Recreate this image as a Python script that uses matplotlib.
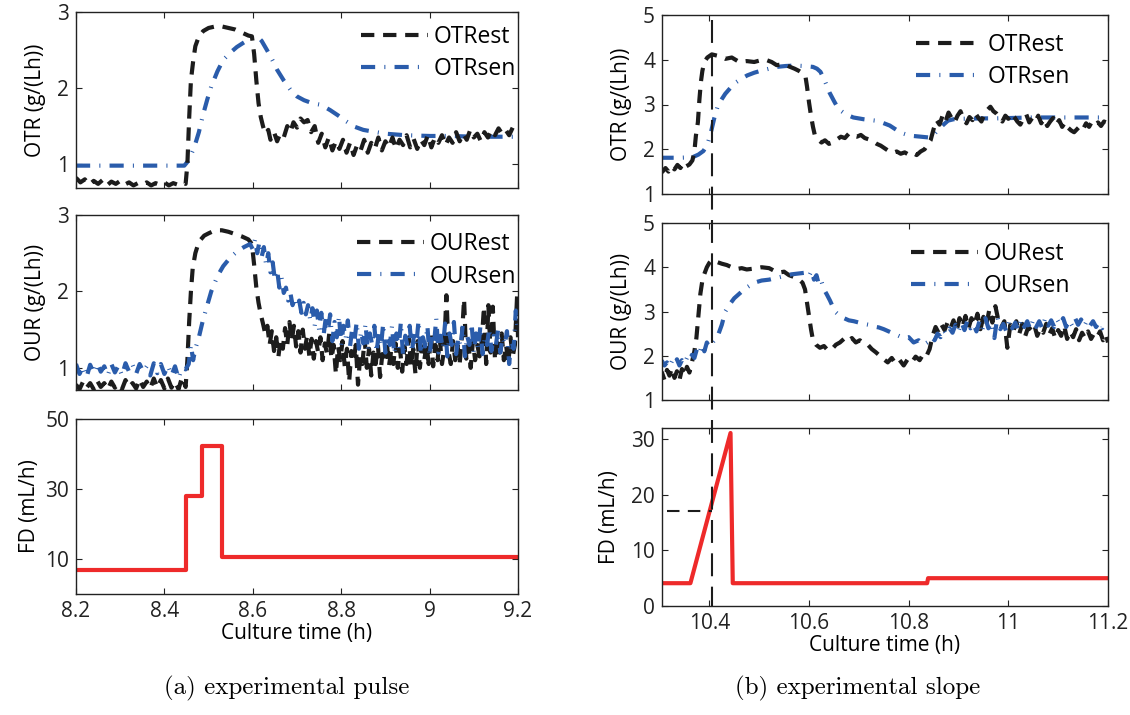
import matplotlib
matplotlib.use('Agg')
import matplotlib.pyplot as plt
from matplotlib.lines import Line2D
import matplotlib.transforms as mtransforms

plt.rcParams['font.family'] = ['Open Sans', 'DejaVu Sans']

# ---------------- (a) experimental pulse ----------------
a_otr_est_t = [8.20, 8.21, 8.22, 8.23, 8.24, 8.25, 8.26, 8.27, 8.28, 8.29, 8.30, 8.31, 8.32, 8.33, 8.34,
               8.35, 8.36, 8.37, 8.38, 8.39, 8.40, 8.41, 8.42, 8.43, 8.44, 8.448, 8.452, 8.456, 8.460,
               8.465, 8.470, 8.478, 8.488, 8.50, 8.515, 8.53, 8.545, 8.56, 8.575, 8.59, 8.598, 8.603,
               8.608, 8.613, 8.618, 8.623, 8.628, 8.635, 8.64, 8.648, 8.655, 8.662, 8.67, 8.678, 8.685,
               8.692, 8.70, 8.708, 8.716, 8.724, 8.732, 8.74, 8.748, 8.756, 8.764, 8.772, 8.78, 8.788,
               8.796, 8.804, 8.812, 8.82, 8.828, 8.836, 8.844, 8.852, 8.86, 8.868, 8.876, 8.884, 8.892,
               8.90, 8.908, 8.916, 8.924, 8.932, 8.94, 8.948, 8.956, 8.964, 8.972, 8.98, 8.988, 8.996,
               9.004, 9.012, 9.02, 9.028, 9.036, 9.044, 9.052, 9.06, 9.068, 9.076, 9.084, 9.092, 9.10,
               9.108, 9.116, 9.124, 9.132, 9.14, 9.148, 9.156, 9.164, 9.172, 9.18, 9.188, 9.196, 9.20]
a_otr_est = [0.82, 0.76, 0.80, 0.73, 0.78, 0.74, 0.79, 0.72, 0.77, 0.74, 0.78, 0.73, 0.76, 0.72, 0.75,
             0.73, 0.76, 0.72, 0.75, 0.73, 0.76, 0.72, 0.75, 0.73, 0.76, 0.74, 1.00, 1.60, 2.10,
             2.35, 2.55, 2.68, 2.75, 2.79, 2.81, 2.81, 2.79, 2.77, 2.73, 2.69, 2.68, 2.45,
             2.10, 1.80, 1.62, 1.50, 1.40, 1.45, 1.32, 1.42, 1.30, 1.40, 1.35, 1.50, 1.42,
             1.55, 1.48, 1.60, 1.55, 1.58, 1.42, 1.50, 1.28, 1.40, 1.22, 1.35, 1.18, 1.30,
             1.20, 1.32, 1.15, 1.28, 1.12, 1.25, 1.18, 1.32, 1.15, 1.28, 1.20, 1.35, 1.18,
             1.30, 1.22, 1.35, 1.20, 1.32, 1.25, 1.38, 1.22, 1.33, 1.20, 1.32, 1.25, 1.38,
             1.22, 1.35, 1.28, 1.38, 1.25, 1.35, 1.28, 1.42, 1.30, 1.40, 1.32, 1.45, 1.35,
             1.40, 1.30, 1.42, 1.35, 1.45, 1.38, 1.47, 1.40, 1.45, 1.38, 1.48, 1.42, 1.45]

a_otr_sen_t = [8.20, 8.30, 8.40, 8.445, 8.455, 8.468, 8.478, 8.487, 8.497, 8.506, 8.52, 8.533, 8.55,
               8.564, 8.58, 8.594, 8.605, 8.612, 8.62, 8.632, 8.645, 8.655, 8.67, 8.686, 8.70, 8.716,
               8.735, 8.754, 8.775, 8.793, 8.812, 8.831, 8.85, 8.869, 8.90, 8.945, 9.00, 9.05, 9.10,
               9.15, 9.20]
a_otr_sen = [0.98, 0.98, 0.98, 0.98, 1.05, 1.23, 1.42, 1.64, 1.85, 2.02, 2.22, 2.37, 2.47,
             2.54, 2.60, 2.65, 2.68, 2.67, 2.62, 2.50, 2.36, 2.24, 2.10, 1.97, 1.89, 1.84,
             1.80, 1.78, 1.71, 1.64, 1.56, 1.49, 1.45, 1.43, 1.40, 1.38, 1.37, 1.37, 1.36,
             1.36, 1.36]

a_our_est_t = [8.200, 8.208, 8.216, 8.224, 8.232, 8.240, 8.248, 8.256, 8.264, 8.272, 8.280, 8.288,
               8.296, 8.304, 8.312, 8.320, 8.328, 8.336, 8.344, 8.352, 8.360, 8.368, 8.376, 8.384,
               8.392, 8.400, 8.408, 8.416, 8.424, 8.432, 8.440, 8.448,
               8.452, 8.456, 8.460, 8.464, 8.470, 8.478, 8.490, 8.500, 8.515, 8.530, 8.545, 8.560,
               8.575, 8.590, 8.598, 8.603, 8.608, 8.613, 8.618, 8.623, 8.628,
               8.633, 8.638, 8.643, 8.648, 8.653, 8.658, 8.663, 8.668, 8.673, 8.678, 8.683, 8.688,
               8.693, 8.698, 8.703, 8.708, 8.713, 8.718, 8.723, 8.728, 8.733, 8.738, 8.743, 8.748,
               8.753, 8.758, 8.763, 8.768, 8.773, 8.778, 8.783, 8.788, 8.793, 8.798, 8.803, 8.808,
               8.813, 8.818, 8.823, 8.828, 8.833, 8.838, 8.843, 8.848, 8.853, 8.858, 8.863, 8.868,
               8.873, 8.878, 8.883, 8.888, 8.893, 8.898, 8.903, 8.908, 8.913, 8.918, 8.923, 8.928,
               8.933, 8.938, 8.943, 8.948, 8.953, 8.958, 8.963, 8.968, 8.973, 8.978, 8.983, 8.988,
               8.993, 8.998, 9.003, 9.008, 9.013, 9.018, 9.023, 9.028, 9.033, 9.038, 9.043, 9.048,
               9.053, 9.058, 9.063, 9.068, 9.073, 9.078, 9.083, 9.088, 9.093, 9.098, 9.103, 9.108,
               9.113, 9.118, 9.123, 9.128, 9.133, 9.138, 9.143, 9.148, 9.153, 9.158, 9.163, 9.168,
               9.173, 9.178, 9.183, 9.188, 9.193, 9.198, 9.200]
a_our_est = [0.78, 0.72, 0.82, 0.74, 0.80, 0.72, 0.83, 0.75, 0.80, 0.72, 0.82, 0.74,
             0.79, 0.72, 0.84, 0.75, 0.80, 0.73, 0.85, 0.75, 0.82, 0.73, 0.86, 0.74,
             0.84, 0.73, 0.86, 0.74, 0.82, 0.72, 0.88, 0.75,
             1.10, 1.60, 2.00, 2.30, 2.50, 2.65, 2.73, 2.76, 2.80, 2.80, 2.78, 2.75,
             2.72, 2.68, 2.62, 2.35, 2.05, 1.85, 1.70, 1.58, 1.45,
             1.55, 1.30, 1.48, 1.22, 1.40, 1.15, 1.38, 1.25, 1.52, 1.30, 1.60, 1.35,
             1.55, 1.28, 1.48, 1.20, 1.50, 1.25, 1.42, 1.15, 1.38, 1.12, 1.35, 1.20,
             1.40, 1.10, 1.32, 1.18, 1.45, 1.12, 1.30, 0.92, 1.28, 1.10, 1.35, 1.02,
             1.25, 0.82, 1.22, 1.08, 1.30, 0.78, 1.15, 1.05, 1.38, 1.00, 1.25, 0.90,
             1.20, 1.05, 1.30, 0.88, 1.18, 1.08, 1.35, 1.02, 1.22, 1.05, 1.32, 1.00,
             1.25, 0.95, 1.28, 1.05, 1.40, 1.02, 1.25, 0.92, 1.35, 1.00, 1.28, 1.10,
             1.30, 1.05, 1.45, 1.02, 1.30, 1.10, 1.38, 1.05, 1.25, 1.95, 1.20, 1.05,
             1.35, 1.10, 1.30, 1.05, 1.40, 1.90, 1.12, 1.30, 1.00, 1.35, 1.10, 1.30,
             1.15, 1.35, 1.80, 1.05, 1.82, 1.20, 1.80, 1.10, 1.35, 1.20, 1.45, 1.10,
             1.30, 1.05, 1.40, 1.15, 1.30, 1.95, 1.40]

a_our_sen_t = [8.200, 8.208, 8.216, 8.224, 8.232, 8.240, 8.248, 8.256, 8.264, 8.272, 8.280, 8.288,
               8.296, 8.304, 8.312, 8.320, 8.328, 8.336, 8.344, 8.352, 8.360, 8.368, 8.376, 8.384,
               8.392, 8.400, 8.408, 8.416, 8.424, 8.432, 8.440, 8.448,
               8.455, 8.460, 8.465, 8.470, 8.478, 8.487, 8.497, 8.506, 8.520, 8.533, 8.550, 8.564,
               8.580, 8.594, 8.600, 8.605, 8.610, 8.615, 8.620, 8.625, 8.630, 8.635, 8.640, 8.645,
               8.650, 8.655, 8.660, 8.665, 8.670, 8.675, 8.680, 8.685, 8.690, 8.695, 8.700, 8.705,
               8.710, 8.715, 8.720, 8.725, 8.730, 8.735, 8.740, 8.745, 8.750, 8.755, 8.760, 8.765,
               8.770, 8.775, 8.780, 8.785, 8.790, 8.795, 8.800, 8.805, 8.810, 8.815, 8.820, 8.825,
               8.830, 8.835, 8.840, 8.845, 8.850, 8.855, 8.860, 8.865, 8.870, 8.875, 8.880, 8.885,
               8.890, 8.895, 8.900, 8.905, 8.910, 8.915, 8.920, 8.925, 8.930, 8.935, 8.940, 8.945,
               8.950, 8.955, 8.960, 8.965, 8.970, 8.975, 8.980, 8.985, 8.990, 8.995, 9.000, 9.005,
               9.010, 9.015, 9.020, 9.025, 9.030, 9.035, 9.040, 9.045, 9.050, 9.055, 9.060, 9.065,
               9.070, 9.075, 9.080, 9.085, 9.090, 9.095, 9.100, 9.105, 9.110, 9.115, 9.120, 9.125,
               9.130, 9.135, 9.140, 9.145, 9.150, 9.155, 9.160, 9.165, 9.170, 9.175, 9.180, 9.185,
               9.190, 9.195, 9.200]
a_our_sen = [1.05, 0.92, 1.02, 0.88, 1.04, 0.93, 1.06, 0.95, 1.02, 0.90, 1.05, 0.94,
             1.03, 0.90, 1.06, 0.95, 1.04, 0.92, 1.05, 0.95, 1.02, 0.90, 1.06, 0.93,
             1.05, 0.92, 1.03, 0.90, 1.02, 0.86, 1.00, 0.98,
             1.05, 1.30, 1.10, 1.25, 1.40, 1.62, 1.82, 2.00, 2.20, 2.33, 2.45, 2.52,
             2.58, 2.62, 2.55, 2.68, 2.50, 2.65, 2.45, 2.58, 2.35, 2.50, 2.25, 2.38,
             2.15, 2.28, 2.05, 2.18, 1.98, 2.05, 1.88, 1.98, 1.82, 1.92, 1.80, 1.88,
             1.72, 1.85, 1.70, 1.82, 1.62, 1.78, 1.55, 1.75, 1.50, 1.72, 1.42, 1.65,
             1.48, 1.70, 1.35, 1.60, 1.40, 1.68, 1.30, 1.55, 1.38, 1.62, 1.28, 1.52,
             1.35, 1.60, 1.25, 1.48, 1.32, 1.58, 1.22, 1.45, 1.30, 1.55, 1.20, 1.45,
             1.28, 1.58, 1.20, 1.42, 1.30, 1.55, 1.18, 1.45, 1.25, 1.60, 1.15, 1.42,
             1.28, 1.55, 1.20, 1.45, 1.30, 1.62, 1.18, 1.40, 1.28, 1.55, 1.15, 1.45,
             1.30, 1.65, 1.20, 1.42, 1.25, 1.58, 1.15, 1.45, 1.30, 1.60, 1.18, 1.40,
             1.28, 1.55, 1.15, 1.42, 1.30, 1.58, 1.20, 1.45, 1.25, 1.55, 1.18, 1.40,
             1.30, 1.52, 1.22, 1.42, 1.30, 1.50, 1.20, 1.40, 1.30, 1.48, 1.05, 1.35,
             1.25, 1.75, 1.45]

a_fd_t = [8.20, 8.448, 8.448, 8.484, 8.484, 8.531, 8.531, 9.20]
a_fd = [6.9, 6.9, 28.0, 28.0, 42.3, 42.3, 10.6, 10.6]

# ---------------- (b) experimental slope ----------------
b_otr_est_t = [10.300, 10.306, 10.312, 10.318, 10.324, 10.330, 10.336, 10.342, 10.348, 10.354, 10.360,
               10.366, 10.370, 10.373, 10.377, 10.380, 10.383, 10.386, 10.390, 10.396, 10.405, 10.420,
               10.432, 10.445, 10.460, 10.475, 10.490, 10.500, 10.513, 10.525, 10.535, 10.550, 10.560,
               10.571, 10.580, 10.587, 10.593, 10.596, 10.600, 10.604, 10.608, 10.612, 10.618, 10.625,
               10.632, 10.640, 10.648, 10.656, 10.664, 10.672, 10.680, 10.688, 10.696, 10.704, 10.712,
               10.720, 10.728, 10.736, 10.744, 10.752, 10.760, 10.768, 10.776, 10.784, 10.792, 10.800,
               10.808, 10.816, 10.824, 10.832, 10.838, 10.844, 10.850, 10.856, 10.862, 10.868, 10.874,
               10.880, 10.886, 10.892, 10.898, 10.904, 10.910, 10.916, 10.922, 10.928, 10.934, 10.940,
               10.946, 10.952, 10.958, 10.964, 10.970, 10.976, 10.982, 10.988, 10.994, 11.000, 11.006,
               11.012, 11.018, 11.024, 11.030, 11.036, 11.042, 11.048, 11.054, 11.060, 11.066, 11.072,
               11.078, 11.084, 11.090, 11.096, 11.102, 11.108, 11.114, 11.120, 11.126, 11.132, 11.138,
               11.144, 11.150, 11.156, 11.162, 11.168, 11.174, 11.180, 11.186, 11.192, 11.200]
b_otr_est = [1.45, 1.50, 1.58, 1.50, 1.62, 1.55, 1.65, 1.58, 1.70, 1.62, 1.66,
             1.75, 1.95, 2.30, 2.60, 3.10, 3.50, 3.75, 3.95, 4.05, 4.12, 4.08,
             4.02, 4.05, 3.95, 3.97, 3.95, 3.98, 4.00, 3.95, 3.88, 3.90, 3.85,
             3.80, 3.75, 3.70, 3.62, 3.40, 3.05, 2.75, 2.50, 2.30, 2.22, 2.15,
             2.20, 2.12, 2.15, 2.22, 2.28, 2.25, 2.35, 2.30, 2.28, 2.32, 2.25,
             2.22, 2.18, 2.12, 2.08, 2.02, 1.96, 1.92, 1.95, 1.90, 1.93, 1.88,
             1.92, 1.87, 1.95, 2.00, 2.10, 2.20, 2.45, 2.65, 2.55, 2.75, 2.62,
             2.82, 2.70, 2.60, 2.75, 2.85, 2.68, 2.58, 2.72, 2.65, 2.80, 2.70,
             2.62, 2.78, 2.88, 2.95, 2.85, 2.80, 2.72, 2.62, 2.75, 2.68, 2.80,
             2.72, 2.62, 2.55, 2.68, 2.78, 2.60, 2.70, 2.62, 2.75, 2.58, 2.68,
             2.52, 2.62, 2.70, 2.55, 2.65, 2.50, 2.60, 2.48, 2.42, 2.38, 2.45,
             2.52, 2.45, 2.58, 2.50, 2.62, 2.55, 2.60, 2.52, 2.62, 2.58]

b_otr_sen_t = [10.300, 10.340, 10.366, 10.378, 10.388, 10.396, 10.403, 10.410, 10.417, 10.425, 10.432,
               10.443, 10.454, 10.465, 10.476, 10.490, 10.505, 10.520, 10.535, 10.553, 10.571, 10.590,
               10.608, 10.616, 10.623, 10.632, 10.641, 10.650, 10.659, 10.674, 10.689, 10.710, 10.733,
               10.748, 10.762, 10.773, 10.784, 10.795, 10.806, 10.825, 10.843, 10.850, 10.857, 10.868,
               10.879, 10.890, 10.901, 10.950, 10.975, 11.048, 11.122, 11.200]
b_otr_sen = [1.81, 1.81, 1.82, 1.88, 1.96, 2.10, 2.37, 2.70, 2.97, 3.12, 3.24,
             3.38, 3.50, 3.58, 3.65, 3.71, 3.76, 3.80, 3.84, 3.86, 3.87, 3.86,
             3.84, 3.80, 3.73, 3.52, 3.27, 3.08, 2.90, 2.78, 2.71, 2.67, 2.64,
             2.59, 2.53, 2.45, 2.37, 2.33, 2.30, 2.28, 2.26, 2.32, 2.41, 2.53,
             2.64, 2.67, 2.68, 2.69, 2.69, 2.71, 2.71, 2.71]

b_our_est_t = [10.300, 10.305, 10.310, 10.315, 10.320, 10.325, 10.330, 10.335, 10.340, 10.345, 10.350,
               10.355, 10.360, 10.365, 10.370, 10.374, 10.378, 10.382, 10.386, 10.390, 10.395, 10.400,
               10.405, 10.415, 10.425, 10.435, 10.445, 10.455, 10.465, 10.475, 10.490, 10.505, 10.520,
               10.530, 10.540, 10.550, 10.560, 10.570, 10.580, 10.587, 10.592, 10.596, 10.600, 10.604,
               10.608, 10.614, 10.622, 10.630, 10.638, 10.646, 10.654, 10.662, 10.670, 10.678, 10.686,
               10.694, 10.702, 10.710, 10.718, 10.726, 10.734, 10.742, 10.750, 10.758, 10.766, 10.774,
               10.782, 10.790, 10.798, 10.806, 10.814, 10.822, 10.830, 10.836, 10.842, 10.848, 10.854,
               10.860, 10.866, 10.872, 10.878, 10.884, 10.890, 10.896, 10.902, 10.908, 10.914, 10.920,
               10.926, 10.932, 10.938, 10.944, 10.950, 10.956, 10.962, 10.968, 10.974, 10.980, 10.986,
               10.992, 10.998, 11.004, 11.010, 11.016, 11.022, 11.028, 11.034, 11.040, 11.046, 11.052,
               11.058, 11.064, 11.070, 11.076, 11.082, 11.088, 11.094, 11.100, 11.106, 11.112, 11.118,
               11.124, 11.130, 11.136, 11.142, 11.148, 11.154, 11.160, 11.166, 11.172, 11.178, 11.184,
               11.190, 11.196, 11.200]
b_our_est = [1.50, 1.62, 1.45, 1.68, 1.55, 1.72, 1.50, 1.65, 1.45, 1.70, 1.55,
             1.75, 1.62, 1.85, 2.10, 2.40, 2.90, 3.40, 3.70, 3.85, 4.00, 4.10,
             4.16, 4.12, 4.08, 4.05, 4.00, 3.96, 3.98, 3.95, 3.97, 4.00, 3.98,
             3.92, 3.88, 3.90, 3.82, 3.78, 3.72, 3.65, 3.50, 3.20, 2.90, 2.60,
             2.35, 2.25, 2.18, 2.22, 2.12, 2.15, 2.25, 2.30, 2.38, 2.32, 2.40,
             2.30, 2.35, 2.28, 2.25, 2.15, 2.08, 2.00, 1.92, 1.85, 1.95, 1.82,
             1.90, 1.78, 1.92, 1.85, 1.98, 1.90, 2.05, 2.00, 2.15, 2.45, 2.65,
             2.52, 2.70, 2.58, 2.75, 2.62, 2.80, 2.55, 2.85, 2.65, 2.90, 2.62,
             2.85, 2.70, 2.95, 2.60, 2.88, 2.70, 3.05, 2.75, 3.12, 2.80, 2.65,
             2.78, 2.18, 2.70, 2.55, 2.78, 2.50, 2.72, 2.45, 2.65, 2.58, 2.70,
             2.45, 2.62, 2.52, 2.72, 2.48, 2.62, 2.40, 2.58, 2.45, 2.68, 2.38,
             2.55, 2.42, 2.60, 2.35, 2.52, 2.40, 2.55, 2.38, 2.50, 2.42, 2.55,
             2.35, 2.48, 2.30]

b_our_sen_t = [10.300, 10.305, 10.310, 10.315, 10.320, 10.325, 10.330, 10.335, 10.340, 10.345, 10.350,
               10.355, 10.360, 10.365, 10.370, 10.375, 10.380, 10.385, 10.390, 10.395, 10.400, 10.405,
               10.410, 10.417, 10.425, 10.432, 10.440, 10.450, 10.465, 10.476, 10.490, 10.505, 10.520,
               10.535, 10.550, 10.565, 10.580, 10.595, 10.600, 10.605, 10.610, 10.615, 10.620, 10.625,
               10.630, 10.636, 10.642, 10.648, 10.654, 10.660, 10.670, 10.680, 10.690, 10.700, 10.710,
               10.720, 10.730, 10.740, 10.750, 10.760, 10.770, 10.780, 10.790, 10.800, 10.810, 10.820,
               10.830, 10.840, 10.846, 10.852, 10.858, 10.864, 10.870, 10.876, 10.882, 10.888, 10.894,
               10.900, 10.906, 10.912, 10.918, 10.924, 10.930, 10.936, 10.942, 10.948, 10.954, 10.960,
               10.966, 10.972, 10.978, 10.984, 10.990, 10.996, 11.002, 11.008, 11.014, 11.020, 11.026,
               11.032, 11.038, 11.044, 11.050, 11.056, 11.062, 11.068, 11.074, 11.080, 11.086, 11.092,
               11.098, 11.104, 11.110, 11.116, 11.122, 11.128, 11.134, 11.140, 11.146, 11.152, 11.158,
               11.164, 11.170, 11.176, 11.182, 11.188, 11.194, 11.200]
b_our_sen = [1.80, 1.88, 1.78, 1.85, 1.75, 1.88, 1.80, 1.92, 1.78, 1.90, 1.82,
             1.95, 1.88, 2.02, 1.95, 2.15, 2.05, 2.25, 2.10, 2.30, 2.20, 2.28,
             2.35, 2.45, 2.70, 3.00, 3.15, 3.30, 3.45, 3.55, 3.65, 3.70, 3.72,
             3.76, 3.80, 3.84, 3.86, 3.88, 3.80, 3.92, 3.72, 3.82, 3.60, 3.68,
             3.50, 3.38, 3.25, 3.10, 2.98, 2.92, 2.85, 2.80, 2.78, 2.75, 2.72,
             2.70, 2.66, 2.64, 2.60, 2.55, 2.50, 2.45, 2.40, 2.42, 2.30, 2.35,
             2.25, 2.32, 2.42, 2.35, 2.50, 2.42, 2.58, 2.48, 2.62, 2.52, 2.70,
             2.55, 2.75, 2.58, 2.80, 2.62, 2.72, 2.55, 2.78, 2.60, 2.85, 2.62,
             2.75, 2.40, 2.88, 2.60, 2.72, 2.55, 2.80, 2.62, 2.75, 2.58, 2.82,
             2.65, 2.78, 2.60, 2.82, 2.65, 2.78, 2.62, 2.85, 2.68, 2.80, 2.65,
             2.82, 2.70, 2.85, 2.65, 2.80, 2.68, 2.85, 2.70, 2.82, 2.66, 2.80,
             2.68, 2.78, 2.65, 2.75, 2.62, 2.72, 2.65]

b_fd_t = [10.305, 10.362, 10.4425, 10.4425, 10.447, 10.837, 10.839, 11.20]
b_fd = [4.1, 4.1, 31.1, 31.1, 4.1, 4.1, 5.0, 5.0]

b_marker_t = 10.406     # vertical dashed marker (time)
b_marker_fd = 17.1      # horizontal dashed marker (FD value)
b_marker_t0 = 10.316

# ticks / labels
a_xticks = [8.2, 8.4, 8.6, 8.8, 9.0, 9.2]
a_xticklabels = ['8.2', '8.4', '8.6', '8.8', '9', '9.2']
b_xticks = [10.4, 10.6, 10.8, 11.0, 11.2]
b_xticklabels = ['10.4', '10.6', '10.8', '11', '11.2']

# ---------------- styles ----------------
BLACK = '#1c1c1c'
BLUE = '#2a5cab'
RED = '#ee2a2a'
LW = 3.0
DASH = (3.2, 2.1)
DASHDOT = (3.4, 2.2, 0.25, 2.2)
FS_TICK = 15
FS_LEG = 16.5

W, H = 1130, 715
fig = plt.figure(figsize=(W / 100, H / 100), dpi=100)


def rect(l, t, r, b):
    return [l / W, 1 - b / H, (r - l) / W, (b - t) / H]


def style(ax, xlim, ylim, xticks, xticklabels, yticks, show_x):
    ax.set_xlim(*xlim)
    ax.set_ylim(*ylim)
    ax.set_xticks(xticks)
    ax.set_yticks(yticks)
    ax.set_yticklabels([('%g' % v) for v in yticks])
    if show_x:
        ax.set_xticklabels(xticklabels)
        ax.set_xlabel('Culture time (h)', fontsize=FS_TICK, labelpad=1)
    else:
        ax.set_xticklabels([])
    ax.tick_params(direction='in', top=True, right=True, length=4, width=0.8,
                   labelsize=FS_TICK, pad=5, colors='#222222')
    for s in ax.spines.values():
        s.set_linewidth(1.0)
        s.set_color('#222222')


def legend(ax, labels, anchor):
    h1 = Line2D([], [], color=BLACK, lw=LW, dashes=DASH)
    h2 = Line2D([], [], color=BLUE, lw=LW, dashes=DASHDOT)
    ax.legend([h1, h2], labels, loc='upper right', bbox_to_anchor=anchor, frameon=False,
              fontsize=FS_LEG, handlelength=2.9, handletextpad=0.25, labelspacing=0.35,
              borderpad=0, borderaxespad=0)


# (a) panels
ax1 = fig.add_axes(rect(76, 12, 518, 188))
ax1.plot(a_otr_sen_t, a_otr_sen, color=BLUE, lw=LW, dashes=DASHDOT)
ax1.plot(a_otr_est_t, a_otr_est, color=BLACK, lw=LW, dashes=DASH)
style(ax1, (8.2, 9.2), (0.686, 3), a_xticks, a_xticklabels, [1, 2, 3], False)
ax1.set_ylabel('OTR (g/(Lh))', fontsize=FS_TICK, labelpad=8)
legend(ax1, ['OTRest', 'OTRsen'], (0.995, 0.925))

ax2 = fig.add_axes(rect(76, 215, 518, 390))
ax2.plot(a_our_est_t, a_our_est, color=BLACK, lw=LW, dashes=DASH)
ax2.plot(a_our_sen_t, a_our_sen, color=BLUE, lw=LW, dashes=DASHDOT)
style(ax2, (8.2, 9.2), (0.71, 3), a_xticks, a_xticklabels, [1, 2, 3], False)
ax2.set_ylabel('OUR (g/(Lh))', fontsize=FS_TICK, labelpad=8)
legend(ax2, ['OURest', 'OURsen'], (0.995, 0.90))

ax3 = fig.add_axes(rect(76, 419, 518, 594))
ax3.plot(a_fd_t, a_fd, color=RED, lw=LW)
style(ax3, (8.2, 9.2), (0, 50), a_xticks, a_xticklabels, [10, 30, 50], True)
ax3.set_ylabel('FD (mL/h)', fontsize=FS_TICK, labelpad=4)

# (b) panels
bx1 = fig.add_axes(rect(662, 15, 1108, 194))
bx1.plot(b_otr_sen_t, b_otr_sen, color=BLUE, lw=LW, dashes=DASHDOT)
bx1.plot(b_otr_est_t, b_otr_est, color=BLACK, lw=LW, dashes=DASH)
style(bx1, (10.305, 11.2), (1, 5), b_xticks, b_xticklabels, [1, 2, 3, 4, 5], False)
bx1.set_ylabel('OTR (g/(Lh))', fontsize=FS_TICK, labelpad=8)
legend(bx1, ['OTRest', 'OTRsen'], (0.915, 0.90))

bx2 = fig.add_axes(rect(662, 223, 1108, 400))
bx2.plot(b_our_est_t, b_our_est, color=BLACK, lw=LW, dashes=DASH)
bx2.plot(b_our_sen_t, b_our_sen, color=BLUE, lw=LW, dashes=DASHDOT)
style(bx2, (10.305, 11.2), (1, 5), b_xticks, b_xticklabels, [1, 2, 3, 4, 5], False)
bx2.set_ylabel('OUR (g/(Lh))', fontsize=FS_TICK, labelpad=8)
legend(bx2, ['OURest', 'OURsen'], (0.915, 0.89))

bx3 = fig.add_axes(rect(662, 428, 1108, 606))
bx3.plot(b_fd_t, b_fd, color=RED, lw=LW)
style(bx3, (10.305, 11.2), (0, 32), b_xticks, b_xticklabels, [0, 10, 20, 30], True)
bx3.set_ylabel('FD (mL/h)', fontsize=FS_TICK, labelpad=8)
bx3.plot([b_marker_t0, b_marker_t], [b_marker_fd, b_marker_fd], color=BLACK, lw=1.5,
         dashes=(6, 4))

# vertical dashed marker spanning all (b) panels
trans = mtransforms.blended_transform_factory(bx3.transData, fig.transFigure)
fig.add_artist(Line2D([b_marker_t, b_marker_t], [1 - 20 / H, 1 - 606 / H], transform=trans,
                      color=BLACK, lw=1.5, dashes=(11, 5)))

# captions
fig.text(287 / W, 1 - 688 / H, '(a) experimental pulse', ha='center', va='center',
         fontsize=18, family='cmr10')
fig.text(858 / W, 1 - 688 / H, '(b) experimental slope', ha='center', va='center',
         fontsize=18, family='cmr10')

fig.savefig('out.png', dpi=100)
